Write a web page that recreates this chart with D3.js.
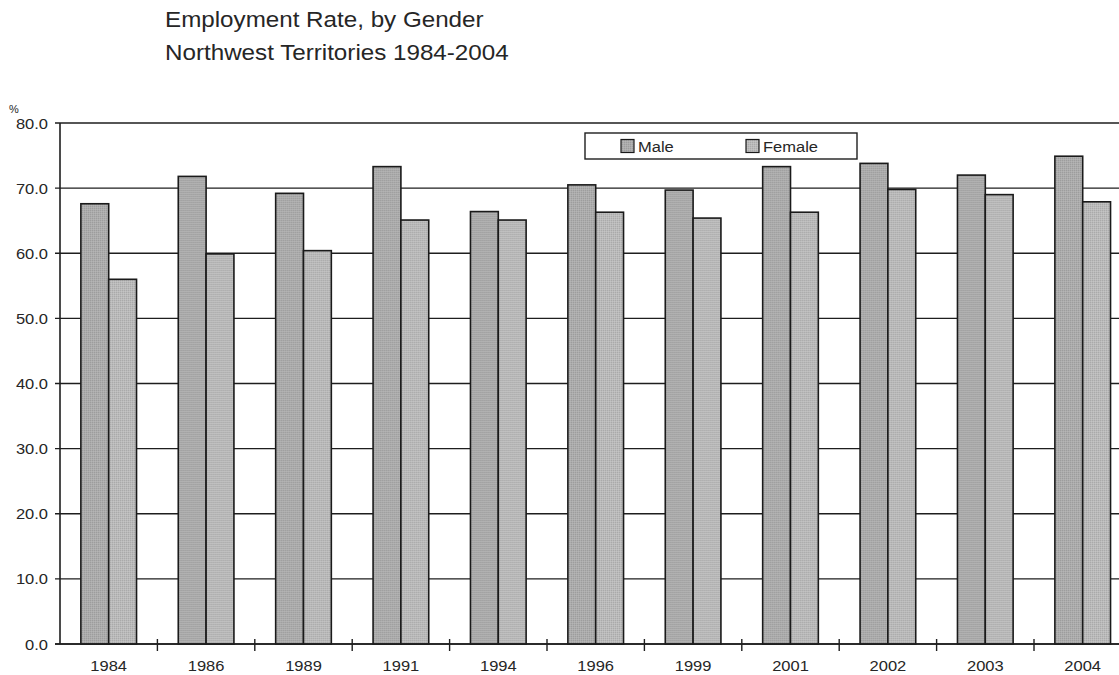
<!DOCTYPE html>
<html>
<head>
<meta charset="utf-8">
<script src="https://cdn.jsdelivr.net/npm/d3@7"></script>
<style>
  html, body { margin: 0; padding: 0; background: #fff; }
  svg { display: block; }
  text { font-family: "Liberation Sans", Arial, Helvetica, sans-serif; fill: #262626; }
</style>
</head>
<body>
<svg id="chart" width="1119" height="675"></svg>
<script>
// Employment rate (%) by gender, Northwest Territories
const years = ["1984", "1986", "1989", "1991", "1994", "1996", "1999", "2001", "2002", "2003", "2004"];
const series = ["Male", "Female"];
const male   = [67.6, 71.8, 69.2, 73.3, 66.4, 70.5, 69.7, 73.3, 73.8, 72.0, 74.9];
const female = [56.0, 59.9, 60.4, 65.1, 65.1, 66.3, 65.4, 66.3, 69.8, 69.0, 67.9];
const yTicks = [0, 10, 20, 30, 40, 50, 60, 70, 80];
const titleLines = ["Employment Rate, by Gender", "Northwest Territories 1984-2004"];

const W = 1119, H = 675;
const plot = { left: 60, top: 123, bottom: 644, right: 60 + 11 * 97.4 };
const stretch = 1.1; // horizontal text widening

const svg = d3.select("#chart");

const fills = { Male: "#acacac", Female: "#bababa" };

const x0 = d3.scaleBand().domain(years).range([plot.left, plot.right]).paddingInner(0).paddingOuter(0);
const x1 = d3.scaleBand().domain(series).range([0, x0.bandwidth()]).paddingInner(0).paddingOuter(0.75);
const y = d3.scaleLinear().domain([0, 80]).range([plot.bottom, plot.top]);

const rows = years.map((yr, i) => ({ year: yr, Male: male[i], Female: female[i] }));

// dithered grey texture for the bars
const defs = svg.append("defs");
series.forEach(s => {
  const p = defs.append("pattern")
    .attr("id", "pat-" + s)
    .attr("width", 2).attr("height", 2)
    .attr("patternUnits", "userSpaceOnUse");
  p.append("rect").attr("width", 2).attr("height", 2).attr("fill", fills[s]);
  p.append("rect").attr("width", 1).attr("height", 1).attr("fill", d3.color(fills[s]).darker(0.25));
  p.append("rect").attr("x", 1).attr("y", 1).attr("width", 1).attr("height", 1).attr("fill", d3.color(fills[s]).brighter(0.15));
});

function stretchedText(g, tx, ty, str, size, anchor) {
  return g.append("text")
    .attr("transform", `translate(${tx},${ty}) scale(${stretch},1)`)
    .attr("font-size", size)
    .attr("text-anchor", anchor || "start")
    .text(str);
}

// title
titleLines.forEach((t, i) => stretchedText(svg, 165, 27 + i * 33, t, 22));

// gridlines with outward ticks
const grid = svg.append("g");
grid.selectAll("line")
  .data(yTicks)
  .join("line")
  .attr("x1", plot.left - 5)
  .attr("x2", W)
  .attr("y1", d => y(d))
  .attr("y2", d => y(d))
  .attr("stroke", "#1e1e1e")
  .attr("stroke-width", 1.4);

// y tick labels
const yl = svg.append("g");
yTicks.forEach(v => {
  stretchedText(yl, 48, y(v) + 5.5, d3.format(".1f")(v), 15, "end");
});
stretchedText(svg, 9, 113, "%", 10, "start");

// bars
const groups = svg.append("g")
  .selectAll("g")
  .data(rows)
  .join("g")
  .attr("transform", d => `translate(${x0(d.year)},0)`);

groups.selectAll("rect")
  .data(d => series.map(s => ({ key: s, value: d[s] })))
  .join("rect")
  .attr("x", d => x1(d.key))
  .attr("width", x1.bandwidth())
  .attr("y", d => y(d.value))
  .attr("height", d => y(0) - y(d.value))
  .attr("fill", d => `url(#pat-${d.key})`)
  .attr("stroke", "#1a1a1a")
  .attr("stroke-width", 1.6);

// axes lines
svg.append("line")
  .attr("x1", plot.left).attr("x2", plot.left)
  .attr("y1", plot.top).attr("y2", plot.bottom)
  .attr("stroke", "#1e1e1e").attr("stroke-width", 1.6);
svg.append("line")
  .attr("x1", plot.left - 5).attr("x2", W)
  .attr("y1", plot.bottom).attr("y2", plot.bottom)
  .attr("stroke", "#1e1e1e").attr("stroke-width", 1.6);

// x ticks at band boundaries
const boundaries = years.slice(1).map(yr => x0(yr));
svg.append("g").selectAll("line")
  .data(boundaries)
  .join("line")
  .attr("x1", d => d).attr("x2", d => d)
  .attr("y1", plot.bottom - 5).attr("y2", plot.bottom + 7)
  .attr("stroke", "#1e1e1e").attr("stroke-width", 1.4);

// x labels
const xl = svg.append("g");
years.forEach(yr => {
  stretchedText(xl, x0(yr) + x0.bandwidth() / 2, 671, yr, 15, "middle");
});

// legend
const lg = svg.append("g");
lg.append("rect")
  .attr("x", 585).attr("y", 133).attr("width", 272).attr("height", 26)
  .attr("fill", "#fff").attr("stroke", "#1e1e1e").attr("stroke-width", 1.4);
const legendX = { Male: 621, Female: 746 };
series.forEach(s => {
  lg.append("rect")
    .attr("x", legendX[s]).attr("y", 139.5).attr("width", 13).attr("height", 13)
    .attr("fill", `url(#pat-${s})`).attr("stroke", "#1a1a1a").attr("stroke-width", 1.2);
  stretchedText(lg, legendX[s] + 17, 151.5, s, 15, "start");
});
</script>
</body>
</html>
